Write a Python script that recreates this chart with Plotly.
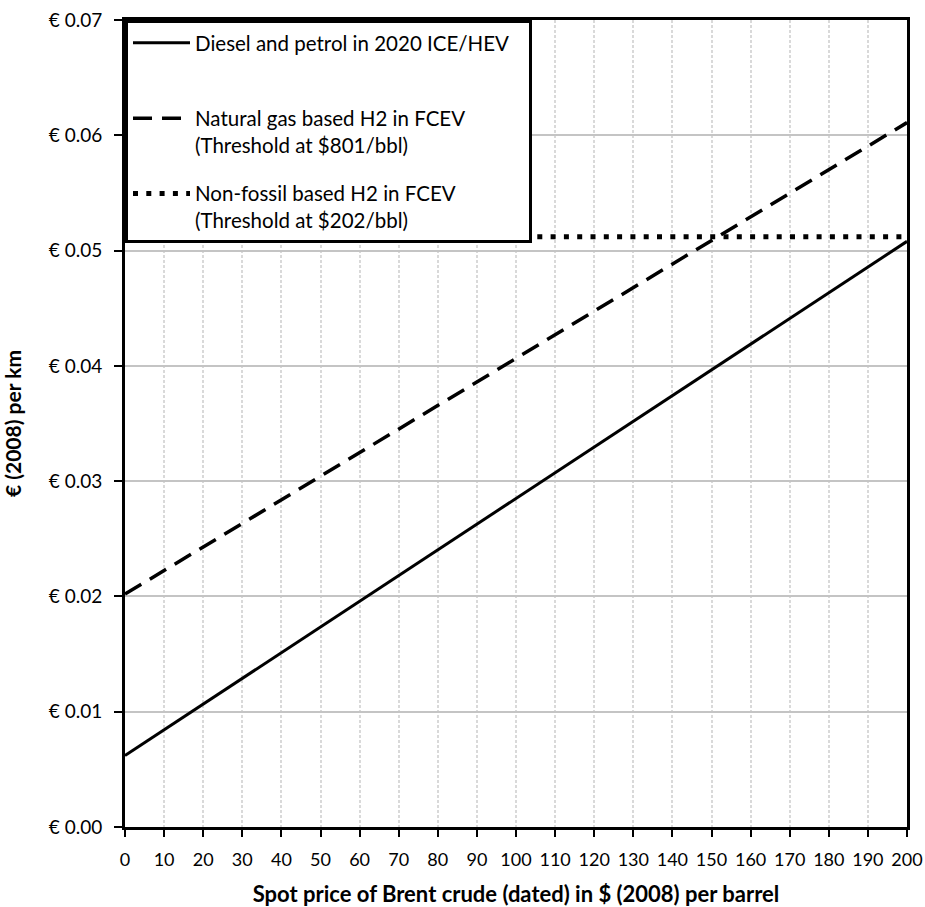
import plotly.graph_objects as go

# ---- data ----
brent_price = [0, 200]
diesel_petrol = [0.0062, 0.0508]
natgas_h2 = [0.0202, 0.0611]
nonfossil_h2 = [0.0512, 0.0512]

series_names = [
    "Diesel and petrol in 2020 ICE/HEV\u00a0\u00a0\u00a0<br> ",
    "Natural gas based H2 in FCEV<br>(Threshold at $801/bbl)",
    "Non-fossil based H2 in FCEV<br>(Threshold at $202/bbl)",
]

x_tick_vals = list(range(0, 201, 10))
x_tick_text = [str(v) for v in x_tick_vals]
y_tick_vals = [0.00, 0.01, 0.02, 0.03, 0.04, 0.05, 0.06, 0.07]
y_tick_text = ["€ 0.00", "€ 0.01", "€ 0.02", "€ 0.03", "€ 0.04", "€ 0.05", "€ 0.06", "€ 0.07"]

FONT = "Lato, 'Open Sans', sans-serif"

fig = go.Figure()
fig.add_trace(go.Scatter(x=brent_price, y=diesel_petrol, mode="lines", name=series_names[0],
                         legendgroup="a",
                         line=dict(color="black", width=3)))
fig.add_trace(go.Scatter(x=brent_price, y=natgas_h2, mode="lines", name=series_names[1],
                         legendgroup="b",
                         line=dict(color="black", width=3.5, dash="19px,10px")))
fig.add_trace(go.Scatter(x=brent_price, y=nonfossil_h2, mode="lines", name=series_names[2],
                         legendgroup="c",
                         line=dict(color="black", width=5, dash="5px,8.3px")))

fig.update_layout(
    width=925, height=907,
    margin=dict(l=125, r=18, t=20, b=80),
    paper_bgcolor="white", plot_bgcolor="white",
    font=dict(family=FONT, size=18, color="black"),
    showlegend=True,
    legend=dict(x=0, y=1, xanchor="left", yanchor="top", xref="paper", yref="paper",
                bgcolor="white", bordercolor="black", borderwidth=3,
                font=dict(family=FONT, size=20.5, color="black"),
                valign="top", tracegroupgap=19, itemwidth=57),
    xaxis=dict(range=[0, 200], tickvals=x_tick_vals, ticktext=x_tick_text,
               showline=True, linecolor="black", linewidth=3, mirror=True,
               ticks="outside", ticklen=7, tickwidth=2, tickcolor="black",
               showgrid=True, gridcolor="#d9d9d9", gridwidth=1.5, griddash="3px,2px",
               zeroline=False, tickfont=dict(size=18), ticklabelstandoff=7,
               ticklabeloverflow="allow", automargin=False,
               title=dict(text="<b>Spot price of Brent crude (dated) in $ (2008) per barrel</b>",
                          font=dict(size=22), standoff=30)),
    yaxis=dict(range=[0, 0.07], tickvals=y_tick_vals, ticktext=y_tick_text,
               showline=True, linecolor="black", linewidth=3, mirror=True,
               ticks="outside", ticklen=8, tickwidth=2, tickcolor="black",
               showgrid=True, gridcolor="#c4c4c4", gridwidth=1.5,
               zeroline=False, tickfont=dict(size=19), ticklabelstandoff=8,
               ticklabeloverflow="allow", automargin=False,
               title=dict(text="<b>€ (2008) per km</b>", font=dict(size=21), standoff=22)),
)

# remove the default 8px page margin so the figure fills the window exactly
fig.write_html(
    "out.html",
    config={"displayModeBar": False},
    post_script="document.body.style.margin='0';document.body.style.overflow='hidden';",
)
